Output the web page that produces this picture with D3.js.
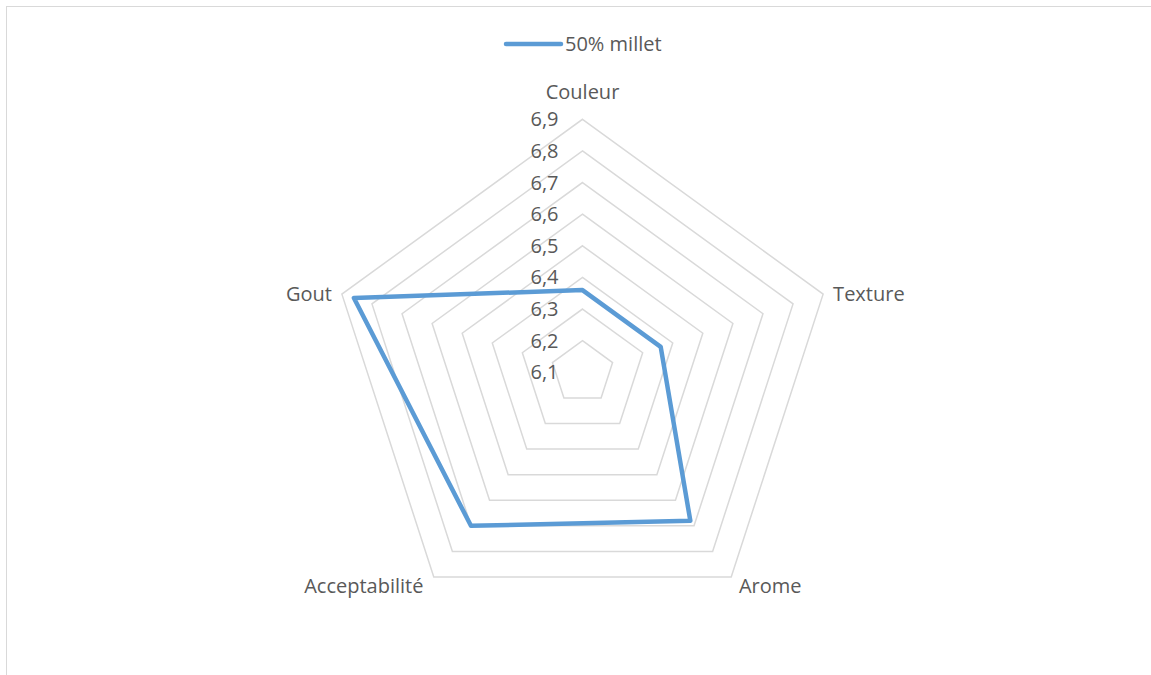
<!DOCTYPE html>
<html>
<head>
<meta charset="utf-8">
<script src="https://cdn.jsdelivr.net/npm/d3@7"></script>
<style>
  body { margin: 0; background: #fff; }
  svg text { font-family: "Open Sans", sans-serif; fill: #595959; }
</style>
</head>
<body>
<div id="chart"></div>
<script>
let categories = ["Couleur", "Texture", "Arome", "Acceptabilité", "Gout"];
let seriesName = "50% millet";
let seriesValues = [6.36, 6.36, 6.68, 6.70, 6.86];
let tickValues = [6.1, 6.2, 6.3, 6.4, 6.5, 6.6, 6.7, 6.8, 6.9];
let tickLabels = ["6,1", "6,2", "6,3", "6,4", "6,5", "6,6", "6,7", "6,8", "6,9"];

let width = 1151, height = 675;
let cx = 582.5, cy = 372.3, radius = 253;
let fontSize = 20;

let svg = d3.select("#chart").append("svg").attr("width", width).attr("height", height);

// chart frame (goes beyond the picture on the right and bottom)
svg.append("rect").attr("x", 6.5).attr("y", 6.5).attr("width", 1160).attr("height", 700)
   .attr("fill", "none").attr("stroke", "#d9d9d9").attr("stroke-width", 1);

let rScale = d3.scaleLinear().domain([6.1, 6.9]).range([0, radius]);
let angle = d3.scaleLinear().domain([0, categories.length]).range([0, 2 * Math.PI]);

function pt(i, v) {
  let a = angle(i);
  return [cx + rScale(v) * Math.sin(a), cy - rScale(v) * Math.cos(a)];
}

let g = svg.append("g");

// rings
tickValues.slice(1).forEach((t) => {
  let pts = categories.map((c, i) => pt(i, t));
  g.append("path").attr("d", d3.line()(pts) + "Z")
   .attr("fill", "none").attr("stroke", "#d9d9d9").attr("stroke-width", 1.5);
});

// tick labels
tickValues.forEach((t, i) => {
  g.append("text").attr("x", cx - 24).attr("y", cy - rScale(t))
   .attr("dy", "0.35em").attr("text-anchor", "end").attr("font-size", fontSize)
   .text(tickLabels[i]);
});

// series
let seriesPts = seriesValues.map((v, i) => pt(i, v));
g.append("path").attr("d", d3.line()(seriesPts) + "Z")
 .attr("fill", "none").attr("stroke", "#5b9bd5").attr("stroke-width", 4.5)
 .attr("stroke-linejoin", "round");

// category labels
let labelPos = [
  {dx: 0, dy: -27, anchor: "middle"},
  {dx: 10, dy: 0, anchor: "start"},
  {dx: 39, dy: 9, anchor: "middle"},
  {dx: -70, dy: 9, anchor: "middle"},
  {dx: -10, dy: 0, anchor: "end"}
];
categories.forEach((c, i) => {
  let p = pt(i, 6.9);
  g.append("text").attr("x", p[0] + labelPos[i].dx).attr("y", p[1] + labelPos[i].dy)
   .attr("dy", "0.35em").attr("text-anchor", labelPos[i].anchor).attr("font-size", fontSize)
   .text(c);
});

// legend
let legend = svg.append("g").attr("transform", "translate(506,44)");
legend.append("line").attr("x1", 0).attr("x2", 55).attr("y1", 0).attr("y2", 0)
      .attr("stroke", "#5b9bd5").attr("stroke-width", 4.5).attr("stroke-linecap", "round");
legend.append("text").attr("x", 59).attr("y", 0).attr("dy", "0.35em")
      .attr("font-size", fontSize).text(seriesName);
</script>
</body>
</html>
